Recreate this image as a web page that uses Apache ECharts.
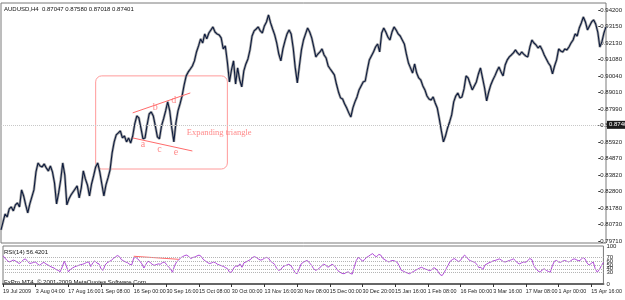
<!DOCTYPE html>
<html>
<head>
<meta charset="utf-8">
<script src="https://cdn.jsdelivr.net/npm/echarts@6/dist/echarts.min.js"></script>
<style>
html, body { margin: 0; padding: 0; background: #fff; }
#chart { width: 625px; height: 300px; }
</style>
</head>
<body>
<div id="chart"></div>
<script>
// date labels under the RSI window, one every 16 points
var tickLabels = ['19 Jul 2009', '3 Aug 04:00', '17 Aug 16:00', '1 Sep 08:00', '16 Sep 00:00',
    '30 Sep 16:00', '15 Oct 08:00', '30 Oct 00:00', '13 Nov 16:00', '30 Nov 08:00', '15 Dec 00:00',
    '30 Dec 20:00', '15 Jan 16:00', '1 Feb 08:00', '16 Feb 00:00', '3 Mar 16:00', '17 Mar 08:00',
    '1 Apr 00:00', '15 Apr 16:00'];

// AUDUSD H4 closes
var closes = [
    0.8041, 0.8091, 0.8141, 0.8122, 0.8173, 0.8185, 0.8160, 0.8198, 0.8210, 0.8185,
    0.8292, 0.8254, 0.8198, 0.8148, 0.8204, 0.8248, 0.8292, 0.8405, 0.8461, 0.8442,
    0.8436, 0.8455, 0.8430, 0.8411, 0.8442, 0.8405, 0.8336, 0.8204, 0.8273, 0.8354,
    0.8461, 0.8386, 0.8198, 0.8235, 0.8260, 0.8279, 0.8298, 0.8317, 0.8242, 0.8304,
    0.8411, 0.8361, 0.8323, 0.8254, 0.8329, 0.8380, 0.8436, 0.8461, 0.8405, 0.8329,
    0.8254, 0.8323, 0.8367, 0.8417, 0.8524, 0.8593, 0.8637, 0.8649, 0.8662, 0.8618,
    0.8630, 0.8593, 0.8618, 0.8586, 0.8630, 0.8706, 0.8756, 0.8743, 0.8680, 0.8612,
    0.8618, 0.8699, 0.8768, 0.8781, 0.8756, 0.8693, 0.8624, 0.8612, 0.8693, 0.8737,
    0.8787, 0.8844, 0.8787, 0.8680, 0.8593, 0.8712, 0.8787, 0.8831, 0.8881, 0.8950,
    0.9007, 0.9032, 0.9050, 0.9069, 0.9101, 0.9157, 0.9195, 0.9239, 0.9213, 0.9270,
    0.9239, 0.9276, 0.9295, 0.9314, 0.9282, 0.9270, 0.9264, 0.9245, 0.9176, 0.9195,
    0.9094, 0.8969, 0.9044, 0.9101, 0.8956, 0.9057, 0.8981, 0.8938, 0.9038, 0.9082,
    0.9113, 0.9170, 0.9257, 0.9289, 0.9301, 0.9314, 0.9289, 0.9276, 0.9320, 0.9345,
    0.9389, 0.9339, 0.9301, 0.9264, 0.9213, 0.9144, 0.9101, 0.9176, 0.9226, 0.9270,
    0.9295, 0.9270, 0.9182, 0.9057, 0.8963, 0.9069, 0.9170, 0.9232, 0.9270, 0.9307,
    0.9282, 0.9245, 0.9188, 0.9126, 0.9144, 0.9157, 0.9176, 0.9138, 0.9119, 0.9069,
    0.9050, 0.9032, 0.9013, 0.8956, 0.8906, 0.8869, 0.8862, 0.8831, 0.8806, 0.8775,
    0.8749, 0.8806, 0.8844, 0.8875, 0.8919, 0.8944, 0.8969, 0.8975, 0.9044, 0.9107,
    0.9132, 0.9157, 0.9188, 0.9207, 0.9157, 0.9276, 0.9307, 0.9282, 0.9251, 0.9232,
    0.9282, 0.9314, 0.9295, 0.9270, 0.9257, 0.9232, 0.9207, 0.9144, 0.9088, 0.9057,
    0.9025, 0.9082, 0.9025, 0.8994, 0.8981, 0.8944, 0.8919, 0.8881, 0.8862, 0.8856,
    0.8875, 0.8837, 0.8806, 0.8737, 0.8662, 0.8593, 0.8630, 0.8680, 0.8718, 0.8762,
    0.8844, 0.8881, 0.8900, 0.8869, 0.8875, 0.8925, 0.9007, 0.8994, 0.8956, 0.8919,
    0.8944, 0.8969, 0.9019, 0.9057, 0.8994, 0.8931, 0.8850, 0.8906, 0.8950, 0.8981,
    0.9007, 0.9038, 0.9063, 0.9032, 0.9007, 0.9075, 0.9107, 0.9126, 0.9138, 0.9151,
    0.9170, 0.9151, 0.9138, 0.9157, 0.9144, 0.9132, 0.9126, 0.9188, 0.9232, 0.9213,
    0.9201, 0.9182, 0.9195, 0.9170, 0.9138, 0.9113, 0.9088, 0.9069, 0.9019, 0.9069,
    0.9107, 0.9176, 0.9163, 0.9157, 0.9176, 0.9170, 0.9188, 0.9213, 0.9232, 0.9270,
    0.9257, 0.9307, 0.9339, 0.9376, 0.9345, 0.9295, 0.9320, 0.9345, 0.9358, 0.9332,
    0.9282, 0.9188, 0.9220, 0.9276, 0.9314
];

// RSI(14), same points
var rsi = [
    74, 68, 62, 58, 60, 63, 61, 57, 54, 58,
    64, 66, 60, 54, 55, 57, 58, 52, 49, 54,
    57, 53, 50, 47, 44, 42, 38, 36, 32, 45,
    60, 48, 32, 38, 42, 45, 47, 49, 51, 52,
    54, 57, 58, 46, 56, 61, 55, 53, 40, 36,
    50, 56, 59, 62, 67, 71, 75, 72, 64, 61,
    58, 56, 52, 50, 68, 70, 66, 60, 53, 42,
    52, 60, 57, 52, 49, 51, 53, 52, 56, 58,
    52, 45, 40, 31, 48, 58, 63, 69, 72, 75,
    76, 72, 67, 70, 71, 74, 76, 73, 65, 61,
    57, 54, 55, 58, 56, 52, 50, 48, 46, 43,
    40, 30, 32, 42, 48, 46, 53, 44, 56, 58,
    61, 64, 69, 72, 70, 66, 63, 64, 68, 70,
    68, 60, 56, 52, 41, 36, 38, 45, 48, 50,
    52, 48, 40, 30, 27, 40, 53, 57, 60, 62,
    56, 50, 41, 36, 38, 42, 48, 52, 50, 44,
    47, 52, 49, 43, 35, 31, 28, 27, 30, 32,
    28, 26, 45, 62, 70, 66, 60, 64, 70, 73,
    77, 80, 74, 72, 78, 76, 67, 64, 60, 58,
    61, 62, 60, 57, 48, 36, 34, 31, 29, 27,
    30, 33, 36, 39, 42, 44, 41, 39, 37, 35,
    38, 43, 40, 33, 25, 22, 30, 40, 50, 60,
    64, 67, 63, 59, 62, 70, 76, 71, 64, 61,
    59, 57, 52, 43, 44, 38, 50, 53, 56, 58,
    61, 62, 64, 66, 63, 59, 58, 60, 62, 64,
    66, 61, 55, 53, 56, 58, 57, 62, 67, 64,
    46, 41, 34, 31, 37, 40, 36, 33, 31, 48,
    60, 62, 58, 57, 60, 62, 60, 58, 61, 65,
    66, 63, 61, 64, 70, 66, 55, 50, 54, 58,
    40, 31, 38, 48, 57
];

// price scale labels, bottom to top
var priceLabels = ['0.79710', '0.80730', '0.81780', '0.82800', '0.83820', '0.84870', '0.85920',
    '0.86940', '0.87990', '0.89010', '0.90040', '0.91080', '0.92130', '0.93150', '0.94200'];
var lastPrice = 0.87401;
var rsiLevels = [70, 60, 50, 40, 30];

// hand drawn triangle (index, price)
var upperEdge = [[64, 0.8775], [92, 0.8900]];
var lowerEdge = [[64, 0.8618], [93, 0.8536]];
var waveLetters = ['a', 'b', 'c', 'd', 'e'];
var wavePoints = [[69, 0.8580], [75, 0.8812], [77, 0.8543], [84, 0.8856], [85, 0.8530]];
var boxCorners = [[46, 0.9007], [110, 0.8423]];
var rsiEdge = [[64, 73], [86, 65]];

var categories = closes.map(function (v, i) {
    return i % 16 === 0 ? (tickLabels[i / 16] || '') : '';
});

var red = '#ff6b6b';
var font = 'Liberation Sans';

var chart = echarts.init(document.getElementById('chart'));

chart.setOption({
    animation: false,
    backgroundColor: '#fff',
    grid: [
        { left: 1, right: 19, top: 3, bottom: 57, show: true, borderColor: '#7a7a7a', borderWidth: 1 },
        { left: 1, right: 19, top: 10, bottom: 59 },
        { left: 1, right: 19, top: 246, bottom: 16, show: true, borderColor: '#7a7a7a', borderWidth: 1 }
    ],
    xAxis: [
        { gridIndex: 0, type: 'category', data: categories, boundaryGap: false, show: false },
        { gridIndex: 1, type: 'category', data: categories, boundaryGap: false, show: false },
        {
            gridIndex: 2, type: 'category', data: categories, boundaryGap: false,
            axisLine: { lineStyle: { color: '#666', width: 2 } },
            axisTick: { interval: 15, length: 3, lineStyle: { color: '#333' } },
            axisLabel: {
                interval: 15, align: 'left', margin: 5, fontSize: 5.4,
                fontFamily: font, color: '#222'
            },
            splitLine: { show: false }
        }
    ],
    yAxis: [
        { gridIndex: 0, type: 'value', min: 0.7959, max: 0.9464, show: false },
        {
            gridIndex: 1, type: 'value', position: 'right', min: 0, max: 14, interval: 1,
            axisLine: { show: false },
            axisTick: { show: true, length: 2, lineStyle: { color: '#333' } },
            axisLabel: {
                margin: 2, fontSize: 6, fontFamily: font, color: '#222',
                formatter: function (v) { return priceLabels[Math.round(v)] || ''; }
            },
            splitLine: { show: false }
        },
        {
            gridIndex: 2, type: 'value', position: 'right', min: 0, max: 100, interval: 10,
            axisLine: { show: false },
            axisTick: { show: false },
            axisLabel: {
                margin: 3, fontSize: 6, fontFamily: font, color: '#222',
                formatter: function (v) {
                    return (v === 0 || v === 100 || rsiLevels.indexOf(v) >= 0) ? String(v) : '';
                }
            },
            splitLine: { show: false }
        }
    ],
    series: [
        {
            type: 'line', xAxisIndex: 0, yAxisIndex: 0, data: closes, symbol: 'none', silent: true,
            lineStyle: { color: '#a8a8a8', width: 2.6 }, z: 2
        },
        {
            type: 'line', xAxisIndex: 0, yAxisIndex: 0, data: closes, symbol: 'none', silent: true,
            lineStyle: { color: '#0d1b3e', width: 1.1 }, z: 3,
            markLine: {
                silent: true, symbol: ['none', 'none'],
                lineStyle: { color: '#c8c8c8', type: 'dotted', width: 1 },
                label: {
                    position: 'end', distance: 1, formatter: '0.87401', fontSize: 6,
                    fontFamily: font, color: '#fff', backgroundColor: '#1b1b1b', padding: [1, 2]
                },
                data: [{ yAxis: lastPrice }]
            }
        },
        {
            type: 'line', xAxisIndex: 0, yAxisIndex: 0, data: upperEdge, symbol: 'none', silent: true,
            lineStyle: { color: red, width: 1 }, z: 4
        },
        {
            type: 'line', xAxisIndex: 0, yAxisIndex: 0, data: lowerEdge, symbol: 'none', silent: true,
            lineStyle: { color: red, width: 1 }, z: 4
        },
        {
            type: 'scatter', xAxisIndex: 0, yAxisIndex: 0, data: wavePoints, symbolSize: 1,
            itemStyle: { color: 'rgba(0,0,0,0)' }, silent: true, z: 5,
            label: {
                show: true, position: 'inside', color: red, fontSize: 10,
                fontFamily: 'Liberation Serif',
                formatter: function (p) { return waveLetters[p.dataIndex]; }
            }
        },
        {
            type: 'scatter', xAxisIndex: 0, yAxisIndex: 0, data: [[90, 0.8649]], symbolSize: 1,
            itemStyle: { color: 'rgba(0,0,0,0)' }, silent: true, z: 5,
            label: {
                show: true, position: 'right', distance: 0, color: red, fontSize: 8.5,
                fontFamily: 'Liberation Serif', formatter: 'Expanding triangle'
            }
        },
        {
            type: 'line', xAxisIndex: 2, yAxisIndex: 2, data: rsi, symbol: 'none', silent: true,
            lineStyle: { color: '#b04ad8', width: 1 }, z: 3,
            markLine: {
                silent: true, symbol: ['none', 'none'], label: { show: false },
                lineStyle: { color: '#b4b4b4', type: 'dotted', width: 1 },
                data: rsiLevels.map(function (v) { return { yAxis: v }; })
            }
        },
        {
            type: 'line', xAxisIndex: 2, yAxisIndex: 2, data: rsiEdge, symbol: 'none', silent: true,
            lineStyle: { color: red, width: 1 }, z: 4
        }
    ],
    graphic: [
        {
            id: 'head', type: 'text', left: 4, top: 6,
            style: { text: 'AUDUSD,H4  0.87047 0.87580 0.87018 0.87401', fontSize: 6, fontFamily: font, fill: '#111' }
        },
        {
            id: 'rsiName', type: 'text', left: 4, top: 249,
            style: { text: 'RSI(14) 56.4201', fontSize: 6, fontFamily: font, fill: '#111' }
        },
        {
            id: 'copy', type: 'text', left: 4, top: 279,
            style: { text: 'FxPro MT4, \u00a9 2001-2009 MetaQuotes Software Corp.', fontSize: 6, fontFamily: font, fill: '#111' }
        }
    ]
});

// rounded box round the triangle, placed through the price scale
var c1 = chart.convertToPixel({ xAxisIndex: 0, yAxisIndex: 0 }, boxCorners[0]);
var c2 = chart.convertToPixel({ xAxisIndex: 0, yAxisIndex: 0 }, boxCorners[1]);
chart.setOption({
    graphic: [{
        id: 'box', type: 'rect', silent: true, z: 1,
        shape: { x: c1[0], y: c1[1], width: c2[0] - c1[0], height: c2[1] - c1[1], r: 6 },
        style: { fill: 'none', stroke: '#ff9a9a', lineWidth: 1 }
    }]
});
</script>
</body>
</html>
